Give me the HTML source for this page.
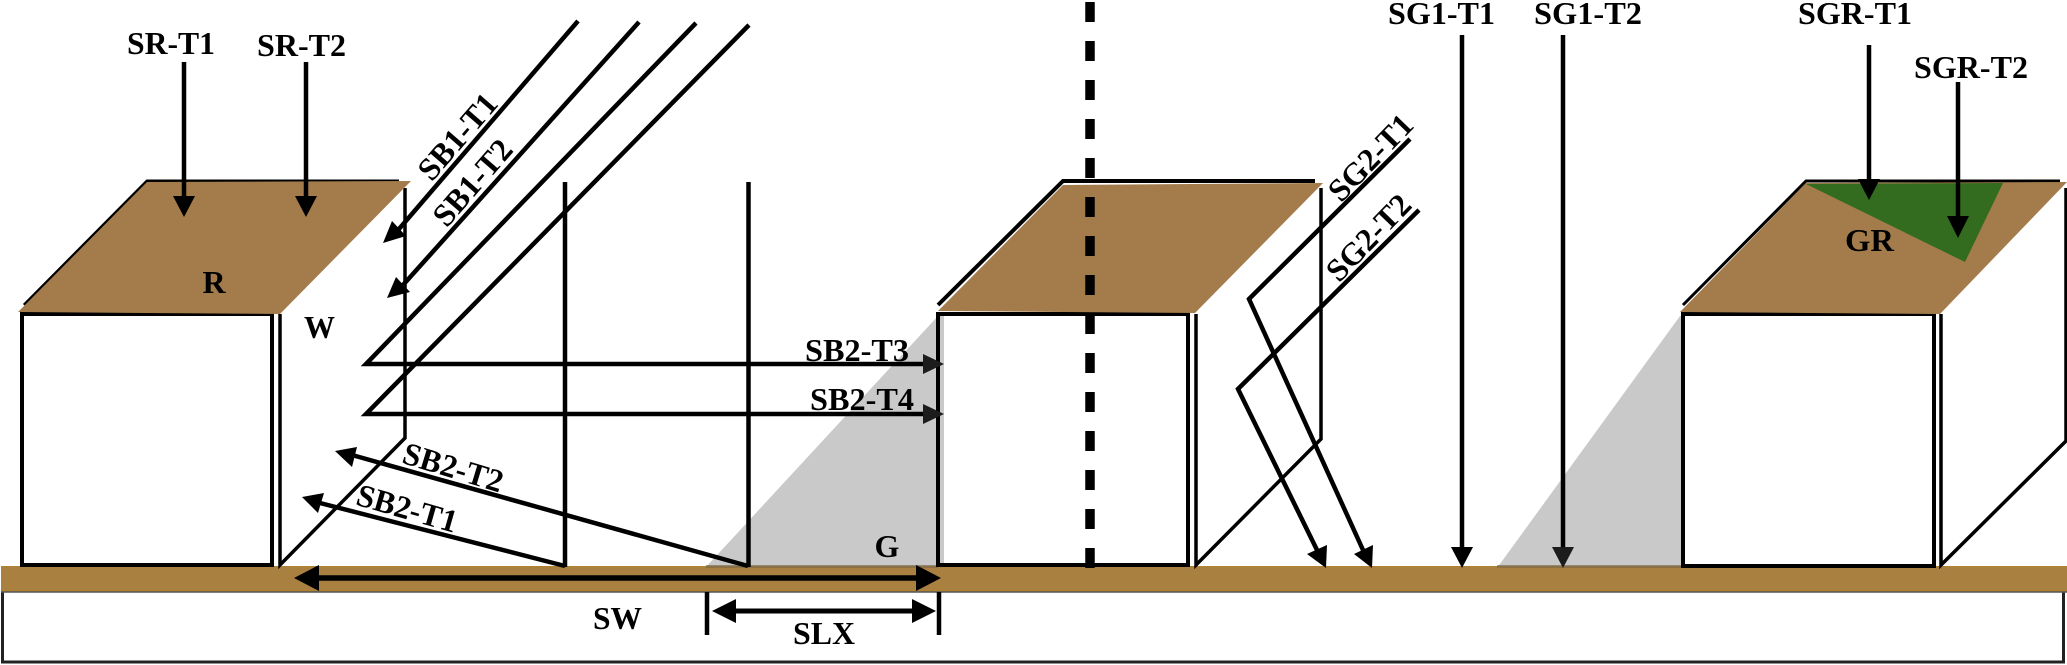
<!DOCTYPE html>
<html><head><meta charset="utf-8"><style>
html,body{margin:0;padding:0;background:#fff}
svg{display:block}
text{font-family:"Liberation Serif",serif;font-weight:bold;fill:#000;font-size:32px}
</style></head><body>
<svg width="2067" height="665" viewBox="0 0 2067 665" xmlns="http://www.w3.org/2000/svg">
<rect width="2067" height="665" fill="#fff"/>
<!-- bottom box -->
<rect x="2.5" y="590" width="2061" height="72" fill="#fff" stroke="#222" stroke-width="3"/>
<!-- shadows -->
<polygon points="706,567 938,316 944,316 944,567" fill="#c9c9c9"/>
<polygon points="1497,568 1680,316 1684,316 1684,568" fill="#c9c9c9"/>
<!-- ground -->
<rect x="1" y="566" width="2066" height="26" fill="#a98040"/>
<line x1="1" y1="566.500" x2="2067" y2="566.500" stroke="#b0822f" stroke-width="1"/>
<line x1="1" y1="590.500" x2="2067" y2="590.500" stroke="#b0822f" stroke-width="1"/>
<line x1="1" y1="592" x2="2067" y2="592" stroke="#555" stroke-width="1.500"/>
<rect x="1497" y="565" width="187" height="3" fill="#7d6a4a" opacity=".7"/>
<rect x="706" y="565" width="232" height="3" fill="#7d6a4a" opacity=".7"/>

<g fill="none" stroke="#000" stroke-width="3.500" stroke-linejoin="miter">
<!-- left building -->
<rect x="22" y="314" width="250" height="251" stroke-width="4"/>
<polyline points="280,314 280,565 405,438 405,188"/>
<!-- middle building -->
<rect x="938" y="314" width="250" height="251" stroke-width="4"/>
<polyline points="1196,314 1196,565 1321,439 1321,188"/>
<!-- right building -->
<rect x="1683" y="314" width="251" height="252" stroke-width="4"/>
<polyline points="1941,314 1941,565 2066,441 2066,188"/>
</g>

<!-- roofs -->
<polyline points="24,305 147,181 399,181" fill="none" stroke="#000" stroke-width="3"/>
<polygon points="147,182 411,181 280,314 18,312" fill="#a47c4b"/>
<polyline points="938,305 1063,181 1315,181" fill="none" stroke="#000" stroke-width="4"/>
<polygon points="1063,185 1323,183 1195,313 938,311" fill="#a47c4b"/>
<polyline points="1683,305 1806,181 2060,181" fill="none" stroke="#000" stroke-width="3"/>
<polygon points="1806,183 2067,182 1940,314 1680,312" fill="#a47c4b"/>
<polygon points="1806,184 2003,183 1965,262" fill="#336b1f"/>

<!-- dashed centre line -->
<line x1="1090" y1="2" x2="1090" y2="569" stroke="#000" stroke-width="9.500" stroke-dasharray="20 19"/>

<g fill="none" stroke="#000" stroke-width="4.500" stroke-linejoin="miter">
<!-- vertical reference -->
<line x1="565" y1="182" x2="565" y2="567"/>
<line x1="748.500" y1="182" x2="748.500" y2="567"/>
<!-- diagonal solar beams -->
<line x1="578" y1="21" x2="399" y2="229"/>
<line x1="639" y1="22" x2="403" y2="285"/>
<polyline points="696,23 366,364 925,364"/>
<polyline points="749,25 366,414 925,414"/>
<!-- reflected -->
<polyline points="565,566 320,503"/>
<polyline points="748,566 352,455"/>
<!-- SG2 -->
<polyline points="1410,139 1249,299 1363,550"/>
<polyline points="1419,210 1238,389 1317,550"/>
<!-- verticals -->
<line x1="184" y1="62" x2="184" y2="200"/>
<line x1="306" y1="62" x2="306" y2="200"/>
<line x1="1462" y1="35" x2="1462" y2="550"/>
<line x1="1563" y1="35" x2="1563" y2="550"/>
<line x1="1869" y1="45" x2="1869" y2="182"/>
<line x1="1958" y1="82" x2="1958" y2="220"/>
<!-- dims -->
<line x1="310" y1="578" x2="925" y2="578" stroke-width="5.500"/>
<line x1="725" y1="611" x2="925" y2="611" stroke-width="5"/>
<line x1="707" y1="592" x2="707" y2="635"/>
<line x1="939" y1="592" x2="939" y2="635"/>
</g>

<g fill="#000">
<polygon points="184,217 173,196 195,196"/>
<polygon points="306,217 295,196 317,196"/>
<polygon points="383,243 392,221 406,236"/>
<polygon points="387,298 396,277 410,292"/>
<polygon points="302,497 324,493 318,513"/>
<polygon points="335,451 357,447 352,467"/>
<polygon points="944,364 923,354 923,374" fill="#1c1c1c"/>
<polygon points="944,414 923,404 923,424" fill="#1c1c1c"/>
<polygon points="1372,568 1354,554 1373,545"/>
<polygon points="1326,568 1307,554 1327,545"/>
<polygon points="1462,568 1451,547 1473,547"/>
<polygon points="1563,568 1552,547 1574,547" fill="#1c1c1c"/>
<polygon points="1869,200 1858,179 1880,179"/>
<polygon points="1958,238 1947,216 1969,216"/>
<polygon points="294,578 319,565 319,591"/>
<polygon points="941,578 916,565 916,591"/>
<polygon points="712,611 736,599 736,623"/>
<polygon points="936,611 912,599 912,623"/>
</g>

<!-- labels -->
<text x="127" y="54" textLength="88" lengthAdjust="spacingAndGlyphs">SR-T1</text>
<text x="257" y="56" textLength="89" lengthAdjust="spacingAndGlyphs">SR-T2</text>
<text x="214" y="293" text-anchor="middle">R</text>
<text x="304" y="338" textLength="31" lengthAdjust="spacingAndGlyphs">W</text>
<text transform="translate(458,137) rotate(-49)" x="0" y="10" text-anchor="middle">SB1-T1</text>
<text transform="translate(473,183) rotate(-49)" x="0" y="10" text-anchor="middle">SB1-T2</text>
<text transform="translate(407,509) rotate(16)" x="0" y="10" text-anchor="middle">SB2-T1</text>
<text transform="translate(453,468) rotate(17)" x="0" y="10" text-anchor="middle">SB2-T2</text>
<text x="805" y="361" textLength="104" lengthAdjust="spacingAndGlyphs">SB2-T3</text>
<text x="810" y="410" textLength="104" lengthAdjust="spacingAndGlyphs">SB2-T4</text>
<text x="887" y="557" text-anchor="middle">G</text>
<text x="593" y="629" textLength="49" lengthAdjust="spacingAndGlyphs">SW</text>
<text x="793" y="644" textLength="62" lengthAdjust="spacingAndGlyphs">SLX</text>
<text x="1388" y="24" textLength="107" lengthAdjust="spacingAndGlyphs">SG1-T1</text>
<text x="1534" y="24" textLength="108" lengthAdjust="spacingAndGlyphs">SG1-T2</text>
<text x="1798" y="24" textLength="114" lengthAdjust="spacingAndGlyphs">SGR-T1</text>
<text x="1914" y="78" textLength="114" lengthAdjust="spacingAndGlyphs">SGR-T2</text>
<text x="1845" y="251" textLength="49" lengthAdjust="spacingAndGlyphs">GR</text>
<text transform="translate(1371,158) rotate(-46)" x="0" y="10" text-anchor="middle">SG2-T1</text>
<text transform="translate(1369,238) rotate(-46)" x="0" y="10" text-anchor="middle">SG2-T2</text>
</svg>
</body></html>
